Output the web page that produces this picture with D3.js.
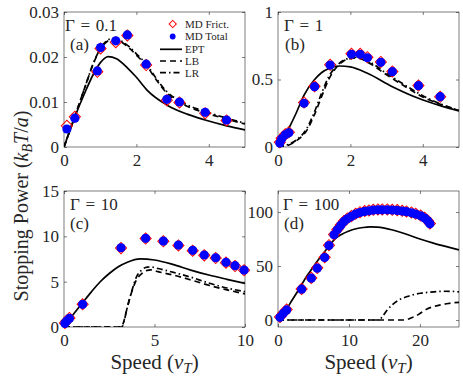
<!DOCTYPE html>
<html>
<head>
<meta charset="utf-8">
<script src="https://cdn.jsdelivr.net/npm/d3@7"></script>
<style>
  body { margin: 0; background: #fff; }
  text { font-family: "Liberation Serif", "Times New Roman", serif; }
</style>
</head>
<body>
<div id="chart"></div>
<script>
// ---- data ----
// (a) Gamma = 0.1
const speedA = [0.08, 0.30, 0.92, 1.01, 1.43, 1.75, 2.27, 2.84, 3.19, 3.90, 4.49];
const frictA = [0.0047, 0.0067, 0.0167, 0.0219, 0.0233, 0.0248, 0.0182, 0.0104, 0.0099, 0.0075, 0.0059];
const totalA = [0.0040, 0.0064, 0.0169, 0.0221, 0.0236, 0.0249, 0.0184, 0.0106, 0.0100, 0.0077, 0.0060];
const eptA = [[0,0],[0.3,0.0067],[0.6,0.0125],[0.8,0.0160],[1.0,0.0187],[1.22,0.0201],[1.45,0.0196],[1.75,0.0176],[2.0,0.0155],[2.3,0.0126],[2.85,0.0093],[3.4,0.0073],[3.9,0.0060],[4.5,0.0047],[5.0,0.0038]];
const lbA = [[0,0],[0.3,0.0068],[0.6,0.0138],[0.8,0.0183],[1.0,0.0217],[1.2,0.0235],[1.35,0.0239],[1.55,0.0235],[1.8,0.0220],[2.05,0.0200],[2.27,0.0182],[2.5,0.0155],[2.84,0.0120],[3.2,0.0099],[3.9,0.0076],[4.5,0.0062],[5.0,0.0051]];
const lrA = [[0,0],[0.3,0.0068],[0.6,0.0138],[0.8,0.0184],[1.0,0.0218],[1.2,0.0237],[1.35,0.0241],[1.55,0.0237],[1.8,0.0223],[2.05,0.0203],[2.27,0.0185],[2.5,0.0158],[2.84,0.0123],[3.2,0.0102],[3.9,0.0079],[4.5,0.0064],[5.0,0.0053]];

// (b) Gamma = 1
const speedB = [0.05, 0.10, 0.20, 0.30, 0.72, 1.01, 1.44, 2.03, 2.27, 2.47, 2.84, 3.16, 3.88, 4.48];
const frictB = [0.035, 0.065, 0.095, 0.110, 0.330, 0.450, 0.610, 0.690, 0.690, 0.665, 0.630, 0.560, 0.455, 0.372];
const totalB = [0.030, 0.060, 0.090, 0.105, 0.324, 0.447, 0.607, 0.687, 0.687, 0.661, 0.627, 0.558, 0.454, 0.373];
const eptB = [[0,0],[0.3,0.139],[0.5,0.25],[0.72,0.385],[1.0,0.496],[1.2,0.55],[1.44,0.585],[1.7,0.600],[2.0,0.593],[2.47,0.546],[3.16,0.447],[3.88,0.361],[4.5,0.305],[5.0,0.267]];
const lbB = [[0,0],[0.3,0.015],[0.5,0.045],[0.8,0.125],[1.0,0.235],[1.2,0.37],[1.4,0.50],[1.6,0.585],[1.8,0.635],[2.0,0.655],[2.2,0.66],[2.5,0.625],[3.0,0.535],[3.5,0.45],[4.0,0.37],[4.5,0.315],[5.0,0.270]];
const lrB = [[0,0],[0.3,0.02],[0.5,0.05],[0.8,0.14],[1.0,0.255],[1.2,0.395],[1.4,0.52],[1.6,0.595],[1.8,0.64],[2.0,0.66],[2.2,0.665],[2.5,0.635],[3.0,0.545],[3.5,0.46],[4.0,0.38],[4.5,0.318],[5.0,0.272]];

// (c) Gamma = 10
const speedC = [0.05, 0.15, 0.30, 1.03, 3.15, 4.51, 5.49, 6.32, 7.11, 7.75, 8.38, 8.95, 9.45, 9.95];
const frictC = [0.45, 0.70, 1.00, 2.50, 8.70, 9.75, 9.45, 9.00, 8.42, 7.90, 7.60, 7.10, 6.72, 6.25];
const totalC = [0.40, 0.65, 0.95, 2.50, 8.74, 9.78, 9.48, 9.04, 8.46, 7.94, 7.64, 7.13, 6.76, 6.28];
const eptC = [[0,0],[0.5,1.35],[1.0,2.61],[1.5,3.85],[2.0,4.99],[2.5,5.9],[3.0,6.65],[3.5,7.15],[4.2,7.52],[5.0,7.39],[6.0,6.91],[7.0,6.28],[8.0,5.73],[9.0,5.26],[10.0,4.82]];
const lbC = [[0,0],[3.1,0],[3.25,0.3],[3.45,1.8],[3.7,3.6],[4.0,5.2],[4.3,5.9],[4.6,6.25],[4.8,6.3],[5.2,6.1],[6.0,5.75],[7.0,5.2],[8.0,4.6],[9.0,4.1],[10.0,3.65]];
const lrC = [[0,0],[3.2,0],[3.3,0.5],[3.5,2.2],[3.75,4.0],[4.0,5.5],[4.3,6.3],[4.6,6.6],[4.8,6.62],[5.2,6.45],[6.0,6.05],[7.0,5.5],[8.0,4.85],[9.0,4.3],[10.0,3.9]];

// (d) Gamma = 100
const speedD = [0.28, 0.75, 1.22, 3.33, 4.69, 5.53, 6.57, 7.18, 7.89, 8.36, 8.83, 9.30, 9.77, 10.33, 10.94, 11.55, 12.21, 12.82, 13.43, 14.08, 14.69, 15.4, 16.1, 16.8, 17.5, 18.1, 18.8, 19.4, 20.1, 20.66, 21.1, 21.4];
const frictD = [2.8, 6.5, 9.6, 28.8, 39.0, 48.3, 58.2, 69.3, 79.2, 83.9, 87.9, 91.6, 94.1, 96.2, 98.4, 99.9, 100.9, 101.5, 102.1, 102.4, 102.4, 102.4, 102.1, 101.8, 101.2, 100.6, 99.6, 98.4, 96.8, 94.7, 92.2, 89.4];
const totalD = [2.5, 6.2, 9.3, 28.5, 38.7, 48.0, 57.9, 69.0, 78.9, 83.6, 87.6, 91.3, 93.8, 95.9, 98.1, 99.6, 100.6, 101.2, 101.8, 102.1, 102.1, 102.1, 101.8, 101.5, 100.9, 100.3, 99.3, 98.1, 96.5, 94.4, 91.9, 89.1];
const eptD = [[0,0],[1,8],[2,18.5],[3,29],[4,40],[5,49.5],[6,58.5],[7,67],[8,75],[9,79.5],[10,82.5],[11,84.5],[12,85.7],[13,86.2],[14,86],[15,85.1],[16,83.6],[17,81.7],[18,79.6],[20,75],[22,71],[24,67.5],[25.5,65]];
const lbD = [[0,0],[17.8,0],[18.5,1.2],[19.2,3],[20,6],[21,10.2],[22,12.5],[22.9,14],[24,15.3],[25.5,16.4]];
const lrD = [[0,0],[14.2,0],[14.8,4],[15.4,9.3],[16.1,14],[16.8,17.6],[17.5,20],[18.2,21.7],[19,23.3],[20.1,24.8],[21.5,25.8],[22.4,26.3],[23.5,26.6],[24.5,26.5],[25.5,26]];

// ticks and labels
const xTicksA = [0, 2, 4], yTicksA = [0, 0.01, 0.02, 0.03];
const xTicksB = [0, 2, 4], yTicksB = [0, 0.5, 1];
const xTicksC = [0, 5, 10], yTicksC = [0, 5, 10, 15];
const xTicksD = [0, 10, 20], yTicksD = [0, 50, 100];
const gammaLabels = ["Γ\u2004=\u20040.1", "Γ\u2004=\u20041", "Γ\u2004=\u200410", "Γ\u2004=\u2004100"];
const panelTags = ["(a)", "(b)", "(c)", "(d)"];
const legendNames = ["MD Frict.", "MD Total", "EPT", "LB", "LR"];

const INK = "#262626";
const DASH_LB = "6,4";
const DASH_LR = "6,3,1.5,3";

const svg = d3.select("#chart")
    .append("svg")
    .attr("width", 463)
    .attr("height", 381);
const defs = svg.append("defs");

const panels = [
    { id: "a", left: 64, right: 245, top: 12, bottom: 147, xDomain: [0, 5], yDomain: [0, 0.03],
      speed: speedA, frict: frictA, total: totalA, ept: eptA, lb: lbA, lr: lrA,
      xTicks: xTicksA, yTicks: yTicksA, lx: 65, tagx: 70 },
    { id: "b", left: 278, right: 459, top: 12, bottom: 147, xDomain: [0, 5], yDomain: [0, 1],
      speed: speedB, frict: frictB, total: totalB, ept: eptB, lb: lbB, lr: lrB,
      xTicks: xTicksB, yTicks: yTicksB, lx: 284, tagx: 285 },
    { id: "c", left: 64, right: 245, top: 191, bottom: 327, xDomain: [0, 10], yDomain: [0, 15],
      speed: speedC, frict: frictC, total: totalC, ept: eptC, lb: lbC, lr: lrC,
      xTicks: xTicksC, yTicks: yTicksC, lx: 70, tagx: 70 },
    { id: "d", left: 278, right: 459, top: 191, bottom: 327, xDomain: [0, 25.5], yDomain: [-6.5, 119.5],
      speed: speedD, frict: frictD, total: totalD, ept: eptD, lb: lbD, lr: lrD,
      xTicks: xTicksD, yTicks: yTicksD, lx: 283, tagx: 284 }
];

const diamond = d3.symbol().type(d3.symbolSquare).size(62)();

const styleAxis = g => {
    g.select(".domain").remove();
    g.selectAll(".tick line").attr("stroke", INK).attr("stroke-width", 0.6);
    g.selectAll(".tick text").attr("fill", INK).attr("font-size", "17px");
};

const drawPanel = (p, i) => {
    const x = d3.scaleLinear().domain(p.xDomain).range([p.left, p.right]);
    const y = d3.scaleLinear().domain(p.yDomain).range([p.bottom, p.top]);
    const g = svg.append("g");

    defs.append("clipPath").attr("id", "clip-" + p.id)
        .append("rect")
        .attr("x", p.left).attr("y", p.top)
        .attr("width", p.right - p.left).attr("height", p.bottom - p.top);

    // axes with inward ticks, box all round
    g.append("g").attr("transform", `translate(0,${p.bottom})`)
        .call(d3.axisBottom(x).tickValues(p.xTicks).tickSize(-3).tickPadding(7).tickFormat(String))
        .call(styleAxis);
    g.append("g").attr("transform", `translate(0,${p.top})`)
        .call(d3.axisTop(x).tickValues(p.xTicks).tickSize(-3).tickFormat(""))
        .call(styleAxis);
    g.append("g").attr("transform", `translate(${p.left},0)`)
        .call(d3.axisLeft(y).tickValues(p.yTicks).tickSize(-3).tickPadding(5).tickFormat(String))
        .call(styleAxis);
    g.append("g").attr("transform", `translate(${p.right},0)`)
        .call(d3.axisRight(y).tickValues(p.yTicks).tickSize(-3).tickFormat(""))
        .call(styleAxis);

    g.append("rect")
        .attr("x", p.left).attr("y", p.top)
        .attr("width", p.right - p.left).attr("height", p.bottom - p.top)
        .attr("fill", "none").attr("stroke", INK).attr("stroke-width", 0.6);

    // theory curves
    const line = d3.line().x(d => x(d[0])).y(d => y(d[1])).curve(d3.curveMonotoneX);
    const curves = g.append("g").attr("clip-path", `url(#clip-${p.id})`)
        .attr("fill", "none").attr("stroke", "#000").attr("stroke-width", 1.7);
    curves.append("path").datum(p.ept).attr("d", line);
    curves.append("path").datum(p.lb).attr("d", line).attr("stroke-dasharray", DASH_LB);
    curves.append("path").datum(p.lr).attr("d", line).attr("stroke-dasharray", DASH_LR);

    // MD points: red diamonds under blue dots
    g.append("g").selectAll("path")
        .data(p.speed.map((s, k) => [s, p.frict[k]]))
        .enter().append("path")
        .attr("d", diamond)
        .attr("transform", d => `translate(${x(d[0])},${y(d[1])}) rotate(45)`)
        .attr("fill", "none").attr("stroke", "#ff0000").attr("stroke-width", 1);
    g.append("g").selectAll("circle")
        .data(p.speed.map((s, k) => [s, p.total[k]]))
        .enter().append("circle")
        .attr("cx", d => x(d[0])).attr("cy", d => y(d[1]))
        .attr("r", 4.6).attr("fill", "#0000ff");

    // Gamma and panel tag
    g.append("text").attr("x", p.lx).attr("y", p.top + 19)
        .attr("font-size", "17px").attr("fill", INK).text(gammaLabels[i]);
    g.append("text").attr("x", p.tagx).attr("y", p.top + 38)
        .attr("font-size", "17px").attr("fill", INK).text(panelTags[i]);
};

panels.forEach(drawPanel);

// legend inside panel (a)
const legend = svg.append("g");
const legendY = [24, 36.5, 49.3, 61, 72.7];
legend.append("path").attr("d", d3.symbol().type(d3.symbolSquare).size(26)())
    .attr("transform", `translate(172.7,${legendY[0]}) rotate(45)`)
    .attr("fill", "none").attr("stroke", "#ff0000").attr("stroke-width", 1);
legend.append("circle").attr("cx", 172.7).attr("cy", legendY[1]).attr("r", 2.9).attr("fill", "#0000ff");
[null, DASH_LB, DASH_LR].forEach((dash, k) => {
    legend.append("line")
        .attr("x1", 160).attr("x2", 182)
        .attr("y1", legendY[k + 2]).attr("y2", legendY[k + 2])
        .attr("stroke", "#000").attr("stroke-width", 1.7)
        .attr("stroke-dasharray", dash);
});
legendNames.forEach((name, k) => {
    legend.append("text").attr("x", 185).attr("y", legendY[k] + 3.8)
        .attr("font-size", "11px").attr("fill", INK).text(name);
});

// axis titles
const xTitle = cx => {
    const t = svg.append("text").attr("x", cx).attr("y", 369)
        .attr("text-anchor", "middle").attr("font-size", "21px").attr("fill", INK);
    t.append("tspan").text("Speed (");
    t.append("tspan").attr("font-style", "italic").text("v");
    t.append("tspan").attr("font-size", "15px").attr("font-style", "italic").attr("dy", 4).text("T");
    t.append("tspan").attr("dy", -4).text(")");
};
xTitle(154.5);
xTitle(368.5);

const yTitle = svg.append("text")
    .attr("transform", "translate(28,206) rotate(-90)")
    .attr("text-anchor", "middle").attr("font-size", "20px").attr("fill", INK);
yTitle.append("tspan").text("Stopping Power (");
yTitle.append("tspan").attr("font-style", "italic").text("k");
yTitle.append("tspan").attr("font-size", "14px").attr("font-style", "italic").attr("dy", 4).text("B");
yTitle.append("tspan").attr("font-style", "italic").attr("dy", -4).text("T");
yTitle.append("tspan").text("/");
yTitle.append("tspan").attr("font-style", "italic").text("a");
yTitle.append("tspan").text(")");
</script>
</body>
</html>
